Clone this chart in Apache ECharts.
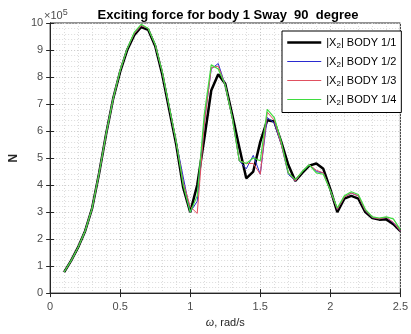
<!DOCTYPE html>
<html><head><meta charset="utf-8">
<script src="https://cdn.jsdelivr.net/npm/echarts@6/dist/echarts.min.js"></script>
<style>html,body{margin:0;padding:0;background:#fff}#c{width:411px;height:334px}</style>
</head><body><div id="c"></div>
<script>
// frequency, rad/s
const omega = [0.10,0.15,0.20,0.25,0.30,0.35,0.40,0.45,0.50,0.55,0.60,0.65,0.70,0.75,0.80,0.85,0.90,0.95,1.00,1.05,1.10,1.15,1.20,1.25,1.30,1.35,1.40,1.45,1.50,1.55,1.60,1.65,1.70,1.75,1.80,1.85,1.90,1.95,2.00,2.05,2.10,2.15,2.20,2.25,2.30,2.35,2.40,2.45,2.50];
// |X2| in units of 1e5 N
const body11 = [0.78,1.2,1.7,2.3,3.15,4.45,5.9,7.2,8.2,9.0,9.55,9.85,9.75,9.15,8.1,6.8,5.5,3.9,3.0,4.0,5.7,7.5,8.1,7.75,6.6,5.4,4.25,4.5,5.6,6.4,6.35,5.6,4.75,4.15,4.45,4.72,4.8,4.6,3.85,3.0,3.5,3.6,3.5,3.0,2.78,2.72,2.73,2.55,2.3];
const body12 = [0.78,1.2,1.7,2.3,3.15,4.45,5.9,7.2,8.25,9.05,9.6,9.9,9.8,9.2,8.2,6.9,5.6,4.3,3.0,3.4,6.3,8.3,8.5,7.7,6.5,4.9,4.6,5.1,4.4,6.5,6.3,5.5,4.4,4.15,4.5,4.75,4.5,4.45,3.8,3.1,3.55,3.7,3.6,3.05,2.8,2.75,2.8,2.6,2.3];
const body13 = [0.78,1.2,1.7,2.3,3.15,4.45,5.9,7.2,8.25,9.05,9.6,9.9,9.8,9.2,8.2,6.9,5.6,4.1,3.2,2.95,6.2,8.35,8.4,7.7,6.5,4.9,4.8,4.8,4.4,6.7,6.4,5.5,4.45,4.15,4.5,4.75,4.55,4.45,3.8,3.1,3.55,3.7,3.6,3.05,2.8,2.75,2.8,2.62,2.3];
const body14 = [0.78,1.2,1.7,2.3,3.15,4.45,5.9,7.2,8.25,9.05,9.65,9.95,9.8,9.2,8.2,6.9,5.6,4.0,3.0,3.6,6.6,8.45,8.3,7.7,6.5,4.9,4.8,5.0,4.9,6.8,6.5,5.6,4.45,4.2,4.5,4.75,4.45,4.4,3.8,3.15,3.6,3.75,3.65,3.1,2.82,2.78,2.82,2.75,2.35];
const seriesNames = ['|X2| BODY 1/1','|X2| BODY 1/2','|X2| BODY 1/3','|X2| BODY 1/4'];
const xTicks = [0,0.5,1,1.5,2,2.5];

const colors = ['#000000','#2a2ad0','#e05060','#3fdc3f'];
const widths = [2.5,1,1,1.2];
const pair = arr => omega.map((w,i)=>[w,arr[i]]);
const gray = '#4d4d4d';
const chart = echarts.init(document.getElementById('c'), null, {renderer:'canvas'});
const mk = (i, data) => ({
  name: seriesNames[i], type:'line', data: pair(data), showSymbol:false, symbol:'none',
  lineStyle:{color:colors[i], width:widths[i]}, itemStyle:{color:colors[i]}, animation:false, z: 3
});
chart.setOption({
  animation:false,
  title:{text:'Exciting force for body 1 Sway  90  degree', left:223, top:4, textAlign:'center',
    textStyle:{fontFamily:'Liberation Sans, Arial', fontWeight:'bold', fontSize:13, color:'#000'}},
  graphic:[{type:'text', left:44, top:8, z:10, style:{rich:{a:{fontFamily:'Liberation Sans',fontSize:11,fill:gray},b:{fontFamily:'Liberation Sans',fontSize:9,fill:gray,verticalAlign:'top',padding:[0,0,6,0]}},text:'{a|×10}{b|5}'}}],
  grid:{left:42, right:7, top:23, bottom:40, show:true, borderColor:'#262626', borderWidth:1, backgroundColor:'#fff'},
  legend:{orient:'vertical', left:282, top:31, itemWidth:34, itemHeight:11, itemGap:6.5, padding:[6,5,6,4],
    backgroundColor:'#fff', borderColor:'#000', borderWidth:1, z:10,
    itemStyle:{opacity:0, color:'rgba(0,0,0,0)', borderWidth:0},
    lineStyle:{width:'inherit'},
    data:seriesNames,
    formatter: n => n.replace('X2','X{s|2}'),
    textStyle:{fontFamily:'Liberation Sans', fontSize:11, color:'#000', rich:{s:{fontSize:8, verticalAlign:'bottom', padding:[6,0,0,0]}}}},
  xAxis:[{type:'value', min:0, max:2.5, interval:0.5,
    name:'{i|ω}, rad/s', nameLocation:'middle', nameGap:22,
    nameTextStyle:{fontFamily:'Liberation Sans', fontSize:11, color:'#262626', rich:{i:{fontStyle:'italic', fontFamily:'Liberation Serif', fontSize:12, color:'#262626'}}},
    axisLine:{show:true, lineStyle:{color:'#262626'}}, axisTick:{inside:true, length:4, lineStyle:{color:'#262626'}},
    axisLabel:{fontFamily:'Liberation Sans', fontSize:11, color:gray, margin:8, formatter:v=>String(v)},
    splitLine:{show:true, lineStyle:{color:'#c8c8c8', type:[1,2], width:1}},
    minorTick:{show:true, splitNumber:5, length:0},
    minorSplitLine:{show:true, lineStyle:{color:'#dcdcdc', type:[1,2], width:1}}},
   {type:'value', position:'top', min:0, max:2.5, interval:0.5, axisLine:{show:true, lineStyle:{color:'#262626'}},
    axisTick:{inside:true, length:4, lineStyle:{color:'#262626'}}, axisLabel:{show:false}, splitLine:{show:false}}],
  yAxis:[{type:'value', min:0, max:10, interval:1,
    name:'N', nameLocation:'middle', nameGap:22, nameRotate:90,
    nameTextStyle:{fontFamily:'Liberation Sans', fontSize:12, fontWeight:'bold', color:'#262626'},
    axisLine:{show:true, lineStyle:{color:'#262626'}}, axisTick:{inside:true, length:4, lineStyle:{color:'#262626'}},
    axisLabel:{fontFamily:'Liberation Sans', fontSize:11, color:gray, margin:7},
    splitLine:{show:true, lineStyle:{color:'#c8c8c8', type:[1,2], width:1}},
    minorTick:{show:true, splitNumber:5, length:0},
    minorSplitLine:{show:true, lineStyle:{color:'#dcdcdc', type:[1,2], width:1}}},
   {type:'value', position:'right', min:0, max:10, interval:1, axisLine:{show:true, lineStyle:{color:'#262626'}},
    axisTick:{inside:true, length:4, lineStyle:{color:'#262626'}}, axisLabel:{show:false}, splitLine:{show:false}}],
  series:[
    mk(0, body11),
    mk(1, body12),
    mk(2, body13),
    mk(3, body14)
  ]
});
</script></body></html>
